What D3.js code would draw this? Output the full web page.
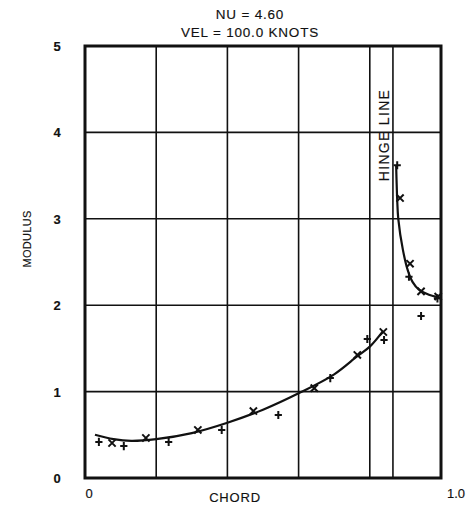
<!DOCTYPE html>
<html>
<head>
<meta charset="utf-8">
<script src="https://cdn.jsdelivr.net/npm/d3@7"></script>
<style>
  html, body { margin: 0; padding: 0; background: #fff; }
  svg text { font-family: "Liberation Sans", Arial, Helvetica, sans-serif; fill: #111; stroke: #111; stroke-width: 0.15px; }
</style>
</head>
<body>
<svg id="chart" width="466" height="509"></svg>
<script>
// Title lines
const titleLines = ["NU = 4.60", "VEL = 100.0 KNOTS"];

// Axis ticks
const yTicks = [0, 1, 2, 3, 4, 5];
const yTickLabels = ["0", "1", "2", "3", "4", "5"];
const xGrid = [0.2, 0.4, 0.6, 0.8];
const xTickValues = [0, 1];
const xTickLabels = ["0", "1.0"];
const hingeChord = 0.865;

// Measured points, "x" symbols
const xMarkChord   = [0.076, 0.171, 0.317, 0.473, 0.644, 0.765, 0.838, 0.885, 0.913, 0.944, 0.992];
const xMarkModulus = [0.405, 0.463, 0.556, 0.775, 1.04, 1.424, 1.69, 3.24, 2.48, 2.16, 2.10];

// Measured points, "+" symbols
const plusMarkChord   = [0.039, 0.109, 0.235, 0.384, 0.543, 0.689, 0.793, 0.840, 0.877, 0.910, 0.944, 0.990];
const plusMarkModulus = [0.417, 0.370, 0.417, 0.556, 0.729, 1.157, 1.609, 1.597, 3.62, 2.33, 1.875, 2.08];

// Faired curve ahead of the hinge
const fitLowerChord   = [0.028, 0.08, 0.13, 0.2, 0.3, 0.4, 0.5, 0.6, 0.7, 0.765, 0.8, 0.837];
const fitLowerModulus = [0.50, 0.45, 0.43, 0.45, 0.52, 0.64, 0.79, 0.98, 1.20, 1.41, 1.52, 1.70];

// Faired curve aft of the hinge
const fitUpperChord   = [0.874, 0.877, 0.880, 0.893, 0.907, 0.920, 0.938, 0.966, 0.994];
const fitUpperModulus = [3.62, 3.22, 3.00, 2.64, 2.40, 2.27, 2.18, 2.12, 2.09];

const svg = d3.select("#chart");
const plotLeft = 85, plotRight = 441, plotTop = 46, plotBottom = 478;

const x = d3.scaleLinear().domain([0, 1]).range([plotLeft, plotRight]);
const y = d3.scaleLinear().domain([0, 5]).range([plotBottom, plotTop]);

// Title
svg.selectAll("text.title").data(titleLines).enter().append("text")
  .attr("class", "title")
  .attr("x", 250).attr("y", (d, i) => 19 + i * 18)
  .attr("text-anchor", "middle")
  .style("font-size", "13.5px").style("letter-spacing", "0.8px")
  .text(d => d);

// Horizontal grid
svg.append("g").selectAll("line").data(yTicks.slice(1, -1)).enter().append("line")
  .attr("x1", plotLeft).attr("x2", plotRight)
  .attr("y1", d => y(d)).attr("y2", d => y(d))
  .attr("stroke", "#111").attr("stroke-width", 1.6);

// Vertical grid and hinge line
svg.append("g").selectAll("line").data(xGrid.concat([hingeChord])).enter().append("line")
  .attr("x1", d => x(d)).attr("x2", d => x(d))
  .attr("y1", plotTop).attr("y2", plotBottom)
  .attr("stroke", "#111").attr("stroke-width", 1.6);

// Frame
svg.append("rect")
  .attr("x", plotLeft).attr("y", plotTop)
  .attr("width", plotRight - plotLeft).attr("height", plotBottom - plotTop)
  .attr("fill", "none").attr("stroke", "#111").attr("stroke-width", 3);

// Y tick labels
svg.selectAll("text.ytick").data(yTicks).enter().append("text")
  .attr("class", "ytick")
  .attr("x", 57).attr("y", d => y(d) + 5)
  .attr("text-anchor", "middle")
  .style("font-size", "13px").style("font-weight", "bold")
  .text((d, i) => yTickLabels[i]);

// X tick labels
svg.selectAll("text.xtick").data(xTickValues).enter().append("text")
  .attr("class", "xtick")
  .attr("x", d => x(d) + (d === 0 ? 4 : 15)).attr("y", 498)
  .attr("text-anchor", "middle")
  .style("font-size", "13px")
  .text((d, i) => xTickLabels[i]);

// Axis titles
svg.append("text")
  .attr("x", 235).attr("y", 502)
  .attr("text-anchor", "middle")
  .style("font-size", "13px").style("letter-spacing", "0.8px")
  .text("CHORD");

svg.append("text")
  .attr("transform", "translate(31,239) rotate(-90)")
  .attr("text-anchor", "middle")
  .style("font-size", "11px").style("letter-spacing", "0.3px")
  .text("MODULUS");

svg.append("text")
  .attr("transform", `translate(${x(hingeChord) - 4},135) rotate(-90)`)
  .attr("text-anchor", "middle")
  .style("font-size", "14px").style("letter-spacing", "1.3px")
  .text("HINGE LINE");

// Faired curves
const line = d3.line().x(d => x(d[0])).y(d => y(d[1])).curve(d3.curveCatmullRom.alpha(0.5));
[[fitLowerChord, fitLowerModulus], [fitUpperChord, fitUpperModulus]].forEach(([cx, cy]) => {
  svg.append("path")
    .datum(d3.zip(cx, cy))
    .attr("d", line)
    .attr("fill", "none").attr("stroke", "#111").attr("stroke-width", 2.2);
});

// Symbols
const s = 3.6;
const xPts = d3.zip(xMarkChord, xMarkModulus);
svg.append("g").selectAll("path").data(xPts).enter().append("path")
  .attr("d", d => {
    const px = x(d[0]), py = y(d[1]);
    return `M${px - s},${py - s}L${px + s},${py + s}M${px - s},${py + s}L${px + s},${py - s}`;
  })
  .attr("stroke", "#111").attr("stroke-width", 2);

const plusPts = d3.zip(plusMarkChord, plusMarkModulus);
svg.append("g").selectAll("path").data(plusPts).enter().append("path")
  .attr("d", d => {
    const px = x(d[0]), py = y(d[1]);
    return `M${px - s},${py}L${px + s},${py}M${px},${py - s - 0.5}L${px},${py + s + 0.5}`;
  })
  .attr("stroke", "#111").attr("stroke-width", 2);
</script>
</body>
</html>
